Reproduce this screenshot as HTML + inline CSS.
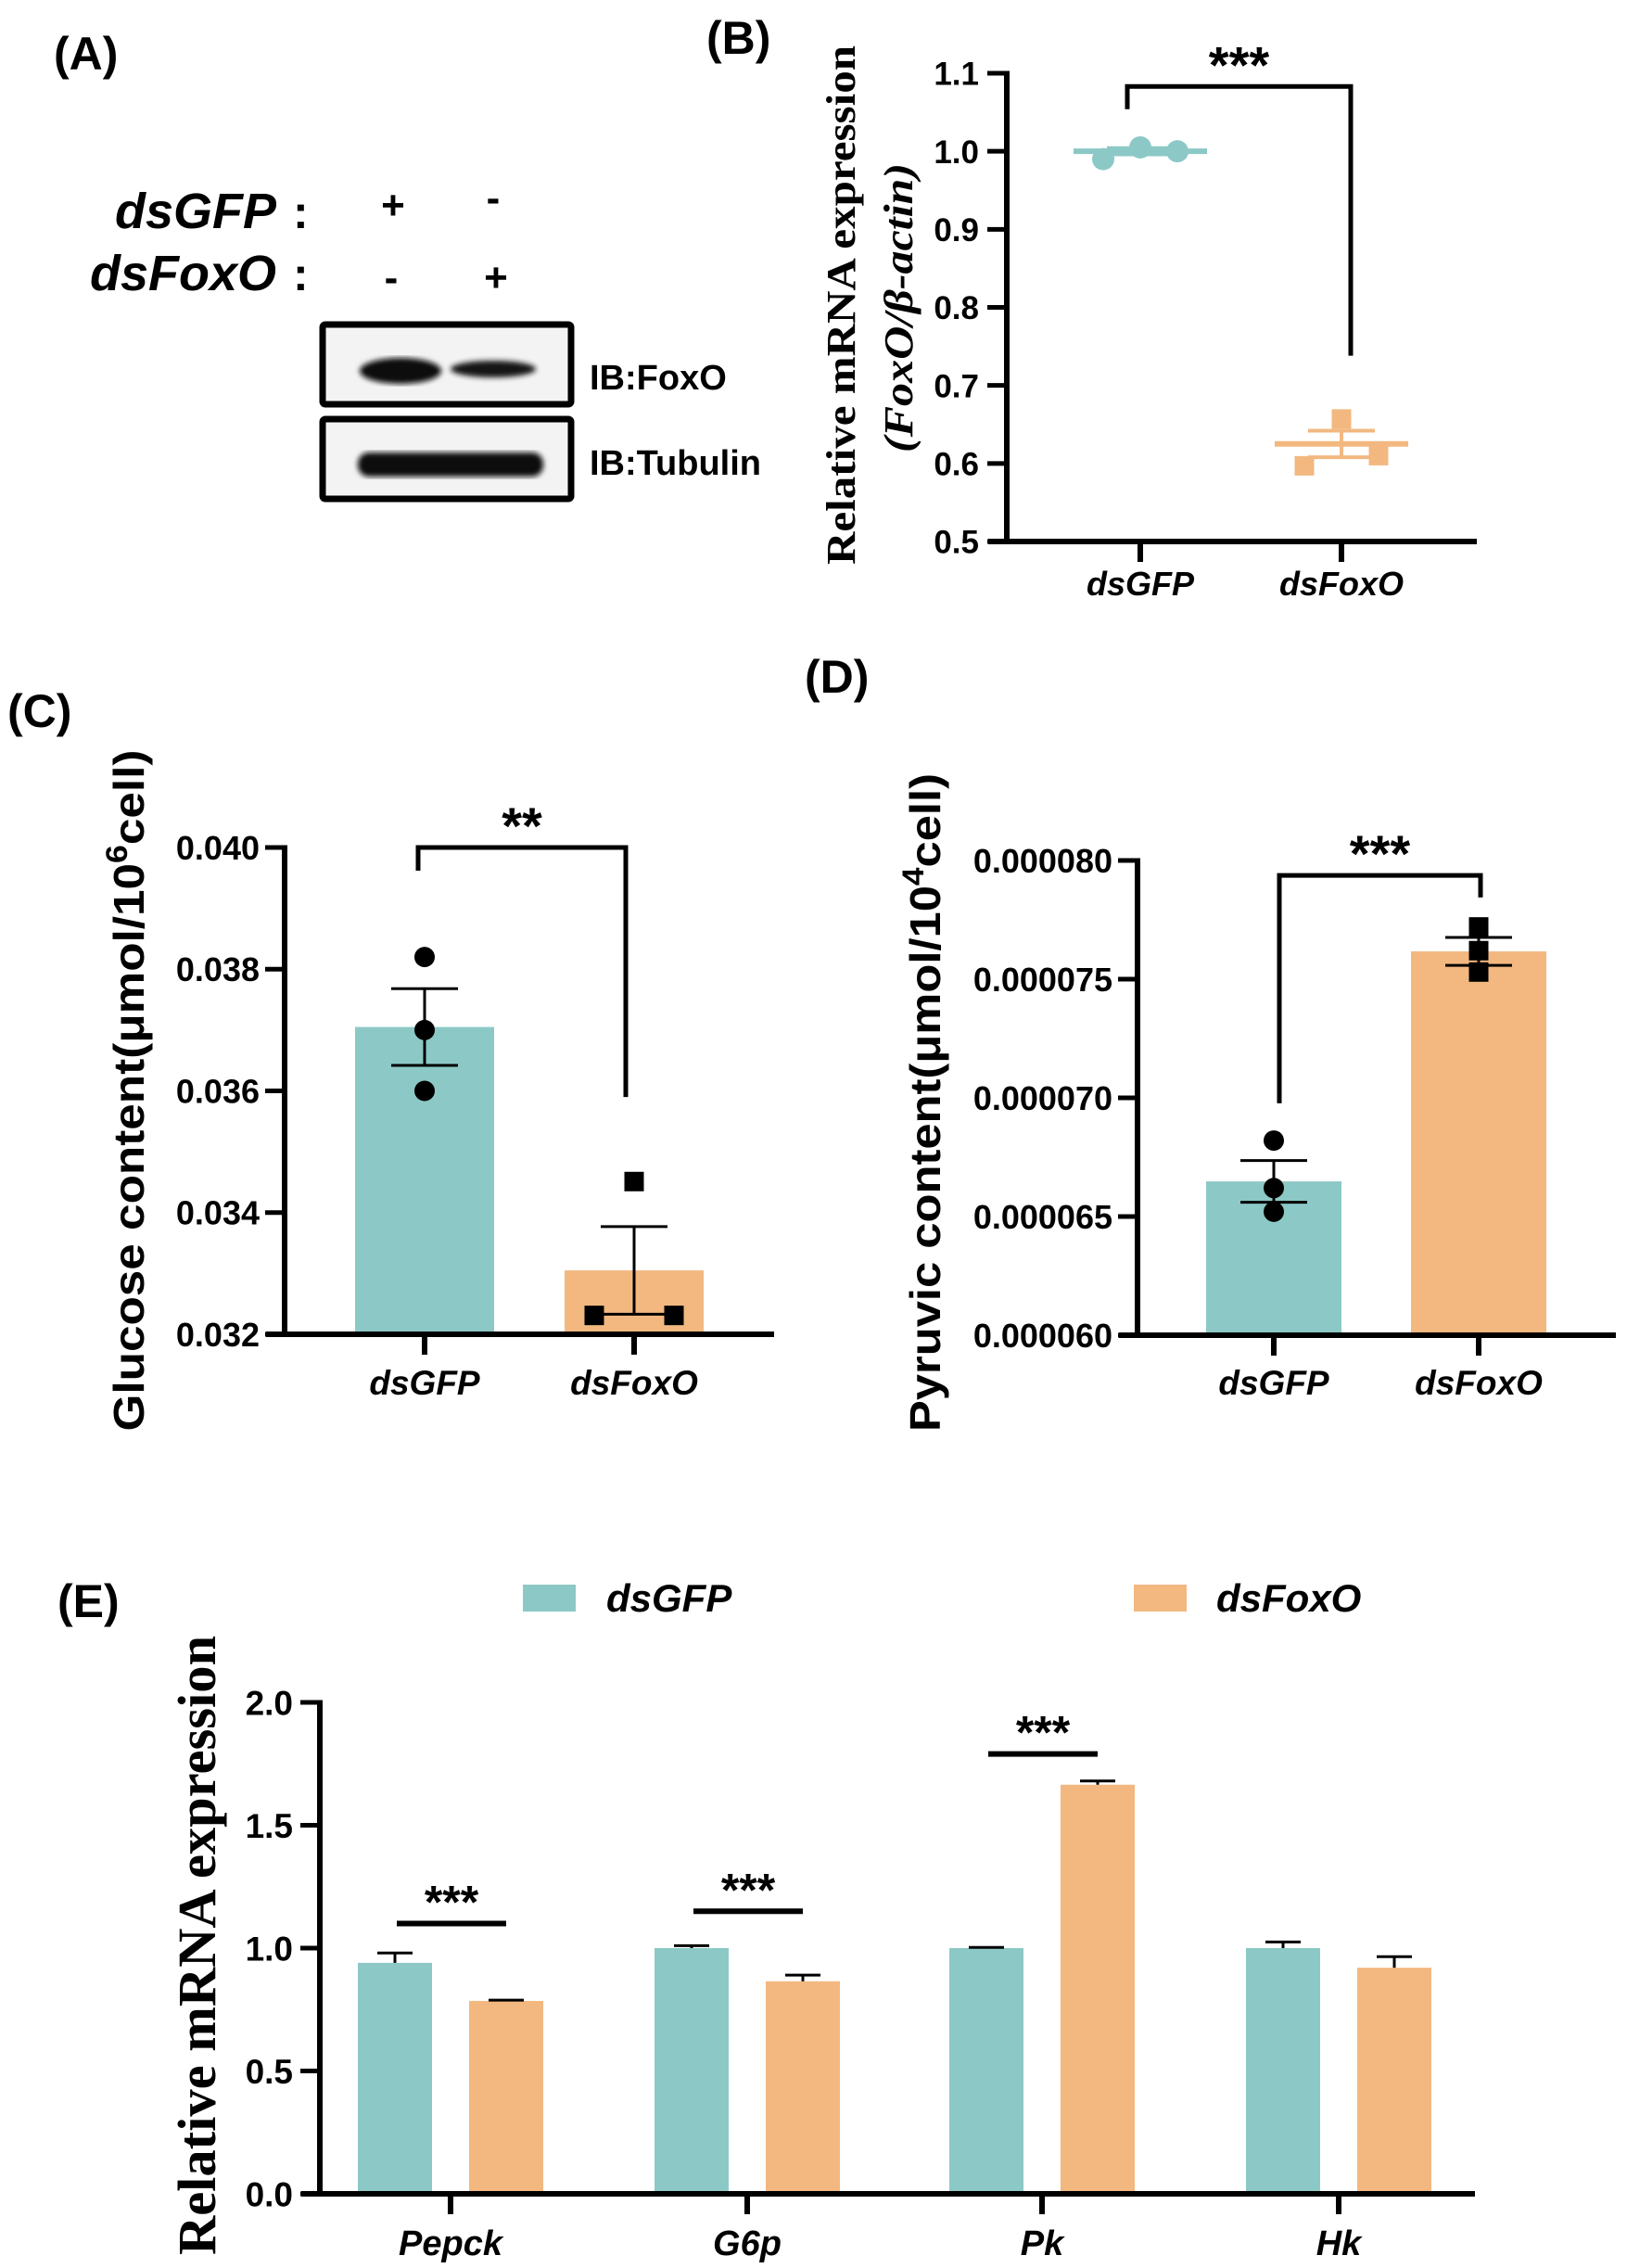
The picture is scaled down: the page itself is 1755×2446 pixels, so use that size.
<!DOCTYPE html>
<html><head><meta charset="utf-8"><style>
html,body{margin:0;padding:0;background:#fff;}
svg{display:block;}
text{font-family:"Liberation Sans",sans-serif;font-weight:bold;fill:#000;}
.serif{font-family:"Liberation Serif",serif;}
</style></head><body>
<svg id="fig" width="1755" height="2446" viewBox="0 0 1755 2446" xmlns="http://www.w3.org/2000/svg">
<rect width="1755" height="2446" fill="#fff"/>
<!-- Panel labels -->
<text x="58" y="75" font-size="50">(A)</text>
<text x="762" y="58" font-size="50">(B)</text>
<text x="8" y="784" font-size="50">(C)</text>
<text x="868" y="747" font-size="50">(D)</text>
<text x="62" y="1744" font-size="50">(E)</text>

<!-- Panel A western blot -->
<g>
<text x="298" y="246" font-size="54" font-style="italic" text-anchor="end">dsGFP</text>
<text x="316" y="246" font-size="50">:</text>
<text x="298" y="313" font-size="54" font-style="italic" text-anchor="end">dsFoxO</text>
<text x="316" y="313" font-size="50">:</text>
<text x="424" y="236" font-size="44" text-anchor="middle">+</text>
<text x="532" y="228" font-size="44" text-anchor="middle">-</text>
<text x="422" y="314" font-size="44" text-anchor="middle">-</text>
<text x="535" y="314" font-size="44" text-anchor="middle">+</text>
<defs><filter id="blur"><feGaussianBlur stdDeviation="3"/></filter></defs>
<rect x="348" y="350" width="268" height="86" fill="#f3f3f3" stroke="#000" stroke-width="7" rx="3"/>
<g filter="url(#blur)">
<ellipse cx="432" cy="400" rx="44" ry="14" fill="#0a0a0a"/>
<ellipse cx="532" cy="398" rx="46" ry="9" fill="#151515"/>
</g>
<rect x="348" y="452" width="268" height="86" fill="#f3f3f3" stroke="#000" stroke-width="7" rx="3"/>
<g filter="url(#blur)">
<rect x="386" y="488" width="200" height="26" rx="12" fill="#0a0a0a"/>
</g>
<text x="636" y="420" font-size="38">IB:FoxO</text>
<text x="636" y="512" font-size="38">IB:Tubulin</text>
</g>

<g id="panelB"></g>
<g id="panelC"></g>
<g id="panelD"></g>
<g id="panelE"></g>
</svg>
<script>
// ---- Panel B data ----
const bCats = ['dsGFP', 'dsFoxO'];
const bTicks = [0.5, 0.6, 0.7, 0.8, 0.9, 1.0, 1.1];
const bTickLabels = ['0.5', '0.6', '0.7', '0.8', '0.9', '1.0', '1.1'];
const bMeans = [1.0, 0.625];
const bSem = [0.004, 0.017];
const bGfpPts = [0.99, 1.005, 1.0];
const bFoxPts = [0.597, 0.657, 0.61];
const bSigLeft = [1.083, 1.054];
const bSigRight = [1.083, 0.738];
// ---- Panel C data ----
const cCats = ['dsGFP', 'dsFoxO'];
const cTicks = [0.032, 0.034, 0.036, 0.038, 0.040];
const cTickLabels = ['0.032', '0.034', '0.036', '0.038', '0.040'];
const cMeans = [0.03705, 0.03305];
const cSem = [0.00063, 0.00072];
const cGfpPts = [0.0382, 0.0370, 0.0360];
const cFoxPts = [0.03451, 0.03231, 0.03231];
const cSigLeft = [0.0400, 0.03962];
const cSigRight = [0.0400, 0.03590];
// ---- Panel D data ----
const dCats = ['dsGFP', 'dsFoxO'];
const dTicks = [0.000060, 0.000065, 0.000070, 0.000075, 0.000080];
const dTickLabels = ['0.000060', '0.000065', '0.000070', '0.000075', '0.000080'];
const dMeans = [0.00006648, 0.00007617];
const dSem = [0.00000088, 0.00000059];
const dGfpPts = [0.0000682, 0.0000662, 0.0000652];
const dFoxPts = [0.0000772, 0.0000762, 0.0000753];
const dSigLeft = [0.00007937, 0.00006977];
const dSigRight = [0.00007937, 0.00007844];
// ---- Panel E data ----
const eGenes = ['Pepck', 'G6p', 'Pk', 'Hk'];
const eTicks = [0.0, 0.5, 1.0, 1.5, 2.0];
const eTickLabels = ['0.0', '0.5', '1.0', '1.5', '2.0'];
const eGfp = [0.94, 1.0, 1.0, 1.0];
const eGfpErr = [0.04, 0.01, 0.003, 0.025];
const eFox = [0.785, 0.865, 1.665, 0.92];
const eFoxErr = [0.003, 0.025, 0.015, 0.045];
const eSig = [1.10, 1.15, 1.79, null];

const TEAL = '#8cc9c6', ORANGE = '#f2b880';
const NS = 'http://www.w3.org/2000/svg';
function mk(parent, tag, attrs, txt) {
  const el = document.createElementNS(NS, tag);
  for (const k in attrs) el.setAttribute(k, attrs[k]);
  if (txt !== undefined) el.textContent = txt;
  parent.appendChild(el);
  return el;
}
function lin(d0, d1, r0, r1) { return v => r0 + (v - d0) / (d1 - d0) * (r1 - r0); }

function yAxis(g, x, y, ticks, labels, fs, tickLen, labelX) {
  const ax = mk(g, 'line', {x1: x, y1: y(ticks[ticks.length-1]) - 2.5, x2: x, y2: y(ticks[0]) + 2.5, stroke: '#000', 'stroke-width': 6});
  
  
  ticks.forEach((t, i) => {
    const tl = mk(g, 'line', {x1: x - tickLen, y1: y(t), x2: x, y2: y(t), stroke: '#000', 'stroke-width': 5});
    
    
    const tx = mk(g, 'text', {x: labelX, y: y(t) + fs * 0.36, 'font-size': fs, 'text-anchor': 'end'}, labels[i]);
    
    
  });
}
function xAxis(g, x0, x1, yb, centers, cats, fs, labelY) {
  const ax = mk(g, 'line', {x1: x0 - 20, y1: yb, x2: x1, y2: yb, stroke: '#000', 'stroke-width': 6});
  
  
  centers.forEach((c, i) => {
    const tl = mk(g, 'line', {x1: c, y1: yb, x2: c, y2: yb + 22, stroke: '#000', 'stroke-width': 6});
    
    
    const tx = mk(g, 'text', {x: c, y: labelY, 'font-size': fs, 'text-anchor': 'middle', 'font-style': 'italic'}, cats[i]);
    
    
  });
}
function errBar(g, cx, y, m, s, half, color, w, onlyUp) {
  const top = y(m + s), bot = onlyUp ? y(m) : y(m - s);
  const l = mk(g, 'line', {x1: cx, y1: top, x2: cx, y2: bot, stroke: color, 'stroke-width': w});
  
  
  const c1 = mk(g, 'line', {x1: cx - half, y1: top, x2: cx + half, y2: top, stroke: color, 'stroke-width': w});
  
  
  if (!onlyUp) {
    const c2 = mk(g, 'line', {x1: cx - half, y1: bot, x2: cx + half, y2: bot, stroke: color, 'stroke-width': w});
    
    
  }
}
function bracket(g, xl, xr, y, left, right, stars, fs) {
  const p = mk(g, 'path', {d: `M${xl},${y(left[1])} L${xl},${y(left[0])} L${xr},${y(right[0])} L${xr},${y(right[1])}`, fill: 'none', stroke: '#000', 'stroke-width': 5});
  
  
  const t = mk(g, 'text', {x: (xl + xr) / 2, y: y(left[0]) - 4, 'font-size': fs, 'text-anchor': 'middle'}, stars);
  
  
}
function dot(g, cx, cy, r, color) {
  const c = mk(g, 'circle', {cx: cx, cy: cy, r: r, fill: color});
  
  
}
function sq(g, cx, cy, s, color) {
  const r = mk(g, 'rect', {x: cx - s/2, y: cy - s/2, width: s, height: s, fill: color});
  
  
}

// ---------- Panel B ----------
(function(){
  const g = document.getElementById('panelB');
  const y = lin(0.5, 1.1, 584, 79);
  const centers = [1230, 1447];
  const t1 = mk(g, 'text', {class: 'serif', transform: 'translate(922,329) rotate(-90)', 'font-size': 44, 'text-anchor': 'middle', textLength: 560, lengthAdjust: 'spacingAndGlyphs'}, 'Relative mRNA expression');
  
  
  const t2 = mk(g, 'text', {class: 'serif', transform: 'translate(984,332) rotate(-90)', 'font-size': 44, 'text-anchor': 'middle', 'font-style': 'italic', textLength: 312, lengthAdjust: 'spacingAndGlyphs'}, '(FoxO/β-actin)');
  
  
  yAxis(g, 1086, y, bTicks, bTickLabels, 35, 21, 1056);
  xAxis(g, 1086, 1593, 584, centers, bCats, 36, 642);
  const offs = [-40, 0, 40];
  bGfpPts.forEach((v, i) => dot(g, centers[0] + offs[i], y(v), 12, TEAL));
  bFoxPts.forEach((v, i) => sq(g, centers[1] + offs[i], y(v), 21, ORANGE));
  [TEAL, ORANGE].forEach((col, i) => {
    const m = mk(g, 'line', {x1: centers[i] - 72, y1: y(bMeans[i]), x2: centers[i] + 72, y2: y(bMeans[i]), stroke: col, 'stroke-width': 6});
    
    
    errBar(g, centers[i], y, bMeans[i], bSem[i], 36, col, 4, false);
  });
  bracket(g, 1216, 1457, y, bSigLeft, bSigRight, '***', 56);
})();

// ---------- Panel C ----------
(function(){
  const g = document.getElementById('panelC');
  const y = lin(0.032, 0.040, 1439, 914);
  const centers = [458, 684];
  const t = mk(g, 'text', {transform: 'translate(155,1176) rotate(-90)', 'font-size': 46, 'text-anchor': 'middle', textLength: 735, lengthAdjust: 'spacingAndGlyphs'});
  
  
  t.innerHTML = 'Glucose content(μmol/10<tspan dy="-18" font-size="32">6</tspan><tspan dy="18">cell)</tspan>';
  [TEAL, ORANGE].forEach((col, i) => {
    const b = mk(g, 'rect', {x: centers[i] - 75, y: y(cMeans[i]), width: 150, height: y(0.032) - y(cMeans[i]), fill: col});
    
    
  });
  yAxis(g, 307, y, cTicks, cTickLabels, 36, 21, 280);
  xAxis(g, 307, 835, 1439, centers, cCats, 37, 1504);
  cGfpPts.forEach(v => dot(g, centers[0], y(v), 11, '#000'));
  const fo = [0, -43, 43];
  cFoxPts.forEach((v, i) => sq(g, centers[1] + fo[i], y(v), 21, '#000'));
  errBar(g, centers[0], y, cMeans[0], cSem[0], 36, '#000', 3, false);
  errBar(g, centers[1], y, cMeans[1], cSem[1], 36, '#000', 3, false);
  bracket(g, 451, 675, y, cSigLeft, cSigRight, '**', 56);
})();

// ---------- Panel D ----------
(function(){
  const g = document.getElementById('panelD');
  const y = lin(0.000060, 0.000080, 1440, 928);
  const centers = [1374, 1595];
  const t = mk(g, 'text', {transform: 'translate(1014,1189) rotate(-90)', 'font-size': 46, 'text-anchor': 'middle', textLength: 710, lengthAdjust: 'spacingAndGlyphs'});
  
  
  t.innerHTML = 'Pyruvic content(μmol/10<tspan dy="-18" font-size="32">4</tspan><tspan dy="18">cell)</tspan>';
  [TEAL, ORANGE].forEach((col, i) => {
    const b = mk(g, 'rect', {x: centers[i] - 73, y: y(dMeans[i]), width: 146, height: y(0.000060) - y(dMeans[i]), fill: col});
    
    
  });
  yAxis(g, 1227, y, dTicks, dTickLabels, 36, 21, 1200);
  xAxis(g, 1227, 1743, 1440, centers, dCats, 37, 1504);
  dGfpPts.forEach(v => dot(g, centers[0], y(v), 11, '#000'));
  dFoxPts.forEach(v => sq(g, centers[1], y(v), 21, '#000'));
  errBar(g, centers[0], y, dMeans[0], dSem[0], 36, '#000', 3, false);
  errBar(g, centers[1], y, dMeans[1], dSem[1], 36, '#000', 3, false);
  bracket(g, 1380, 1597, y, dSigLeft, dSigRight, '***', 56);
})();

// ---------- Panel E ----------
(function(){
  const g = document.getElementById('panelE');
  const y = lin(0, 2.0, 2366, 1836);
  const centers = [486, 806, 1124, 1444];
  const t = mk(g, 'text', {class: 'serif', transform: 'translate(232,2098) rotate(-90)', 'font-size': 58, 'text-anchor': 'middle', textLength: 668, lengthAdjust: 'spacingAndGlyphs'}, 'Relative mRNA expression');
  
  
  const ls1 = mk(g, 'rect', {x: 564, y: 1709, width: 57, height: 29, fill: TEAL});
  
  
  const lt1 = mk(g, 'text', {x: 654, y: 1738, 'font-size': 42, 'font-style': 'italic'}, 'dsGFP');
  
  
  const ls2 = mk(g, 'rect', {x: 1223, y: 1709, width: 57, height: 29, fill: ORANGE});
  
  
  const lt2 = mk(g, 'text', {x: 1312, y: 1738, 'font-size': 42, 'font-style': 'italic'}, 'dsFoxO');
  
  
  eGenes.forEach((gene, i) => {
    const c = centers[i];
    const b1 = mk(g, 'rect', {x: c - 100, y: y(eGfp[i]), width: 80, height: y(0) - y(eGfp[i]), fill: TEAL});
    
    
    const b2 = mk(g, 'rect', {x: c + 20, y: y(eFox[i]), width: 80, height: y(0) - y(eFox[i]), fill: ORANGE});
    
    
    errBar(g, c - 60, y, eGfp[i], eGfpErr[i], 19, '#000', 3, true);
    errBar(g, c + 60, y, eFox[i], eFoxErr[i], 19, '#000', 3, true);
    if (eSig[i] !== null) {
      const sl = mk(g, 'line', {x1: c - 58, y1: y(eSig[i]), x2: c + 60, y2: y(eSig[i]), stroke: '#000', 'stroke-width': 6});
      
      
      const st = mk(g, 'text', {x: c + 1, y: y(eSig[i]) - 6, 'font-size': 50, 'text-anchor': 'middle'}, '***');
      
      
    }
  });
  yAxis(g, 345, y, eTicks, eTickLabels, 37, 21, 316);
  xAxis(g, 345, 1591, 2366, centers, eGenes, 38, 2432);
})();
</script>
</body></html>
